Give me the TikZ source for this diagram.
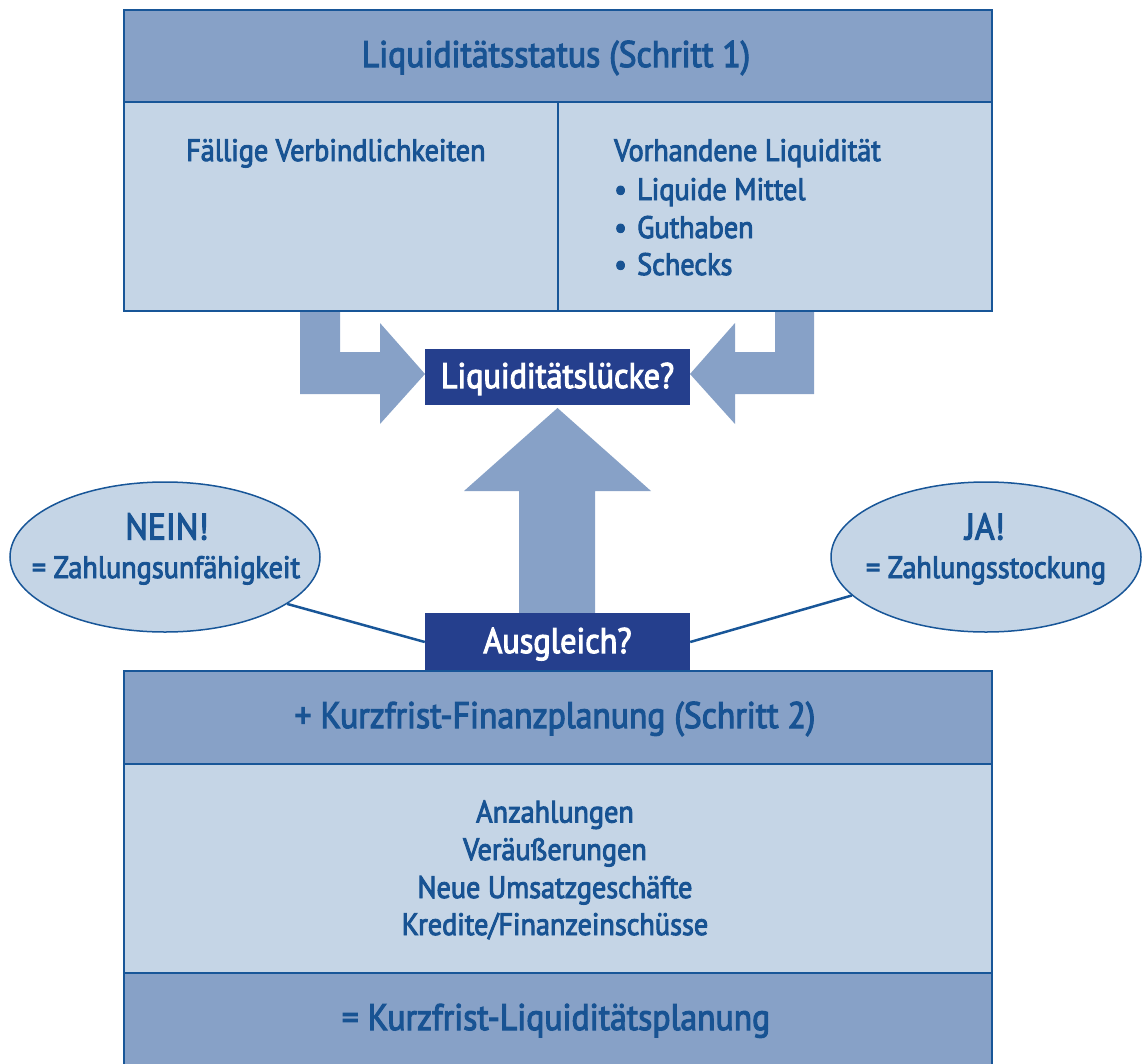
\documentclass[tikz,border=0pt]{standalone}
\usepackage{fontspec}
\newfontfamily\df{PT Sans}[FakeStretch=0.91, FakeBold=3]
\usetikzlibrary{shapes.geometric}
\definecolor{midblue}{HTML}{87A1C7}
\definecolor{lightblue}{HTML}{C5D5E6}
\definecolor{edgeblue}{HTML}{185698}
\definecolor{darkbox}{HTML}{253F8D}
\definecolor{txtblue}{HTML}{185393}
\begin{document}
\begin{tikzpicture}[x=1pt,y=-1pt,
  hdr/.style={draw=edgeblue, fill=midblue, line width=2pt, inner sep=0pt, minimum width=868pt},
  cell/.style={draw=edgeblue, fill=lightblue, line width=2pt, inner sep=0pt},
  darkb/.style={fill=darkbox, inner sep=0pt, minimum width=265pt},
  ell/.style={ellipse, draw=edgeblue, fill=lightblue, line width=1.5pt, inner sep=0pt, minimum width=310pt, minimum height=150pt},
  txt/.style={text=txtblue, inner sep=0pt, font=\df\fontsize{31}{34}\selectfont},
  bigtxt/.style={text=txtblue, inner sep=0pt, font=\df\fontsize{37}{40}\selectfont},
  wtxt/.style={text=white, inner sep=0pt, font=\df\fontsize{35.5}{38}\selectfont},
  conn/.style={draw=edgeblue, line width=2.5pt},
  bigarrow/.style={fill=midblue}
]
\useasboundingbox (0,0) rectangle (1143,1063);

% big arrows
\fill[bigarrow] (300,311) -- (340,311) -- (340,352) -- (380,352) -- (380,323) -- (425,374) -- (380,424) -- (380,394) -- (300,394) -- cycle;
\fill[bigarrow] (814,311) -- (775,311) -- (775,352) -- (735,352) -- (735,323) -- (690,374) -- (735,424) -- (735,394) -- (814,394) -- cycle;
\fill[bigarrow] (519,613) -- (519,491) -- (464,491) -- (557.5,408) -- (651,491) -- (595,491) -- (595,613) -- cycle;

% top block
\node[hdr, minimum height=92pt] (h1) at (558,56) {};
\node[cell, minimum width=433.5pt, minimum height=209pt] (c1) at (340.75,206.5) {};
\node[cell, minimum width=434.5pt, minimum height=209pt] (c2) at (774.75,206.5) {};
\node[bigtxt, anchor=base] (t1) at (556,67) {Liquiditätsstatus (Schritt 1)};
\node[txt, anchor=base west] (t2) at (186,161) {Fällige Verbindlichkeiten};
\node[txt, anchor=base west] (t3) at (614,161) {Vorhandene Liquidität};
\node[txt, anchor=base west] (b1) at (614,200) {•};
\node[txt, anchor=base west] (t4) at (637,200) {Liquide Mittel};
\node[txt, anchor=base west] (b2) at (614,238) {•};
\node[txt, anchor=base west] (t5) at (637,238) {Guthaben};
\node[txt, anchor=base west] (b3) at (614,275) {•};
\node[txt, anchor=base west] (t6) at (637,275) {Schecks};

% question boxes
\node[darkb, minimum height=56pt] (luecke) at (557.5,377) {};
\node[wtxt, anchor=base] (lt) at (557.5,388) {Liquiditätslücke?};
\node[darkb, minimum height=58pt] (ausg) at (557.5,642) {};
\node[wtxt, anchor=base] (at) at (557.5,653) {Ausgleich?};

% ellipses
\node[ell] (nein) at (165,557) {};
\node[ell] (ja) at (986,557) {};
\node[bigtxt, anchor=base] (nt1) at (167,539.5) {NEIN!};
\node[txt, anchor=base] (nt2) at (166,578) {= Zahlungsunfähigkeit};
\node[bigtxt, anchor=base] (jt1) at (985,539.5) {JA!};
\node[txt, anchor=base] (jt2) at (986,578) {= Zahlungsstockung};
\draw[conn] (nein.-21) -- (ausg.west);
\draw[conn] (ausg.east) -- (ja.196);

% bottom block
\node[hdr, minimum height=93pt] (h2) at (558,717.5) {};
\node[cell, minimum width=868pt, minimum height=209pt] (mid) at (558,868.5) {};
\node[fill=midblue, inner sep=0pt, minimum width=868pt, minimum height=100pt] (foot) at (558,1023) {};
\draw[edgeblue, line width=2pt] (foot.south west) -- (foot.north west) -- (foot.north east) -- (foot.south east);
\node[bigtxt, anchor=base] (k1) at (555,728) {+ Kurzfrist-Finanzplanung (Schritt 2)};
\node[txt, anchor=base] (m1) at (555,822.5) {Anzahlungen};
\node[txt, anchor=base] (m2) at (555,860) {Veräußerungen};
\node[txt, anchor=base] (m3) at (555,898) {Neue Umsatzgeschäfte};
\node[txt, anchor=base] (m4) at (555,935) {Kredite/Finanzeinschüsse};
\node[bigtxt, anchor=base] (k2) at (556,1030) {= Kurzfrist-Liquiditätsplanung};
\end{tikzpicture}
\end{document}
